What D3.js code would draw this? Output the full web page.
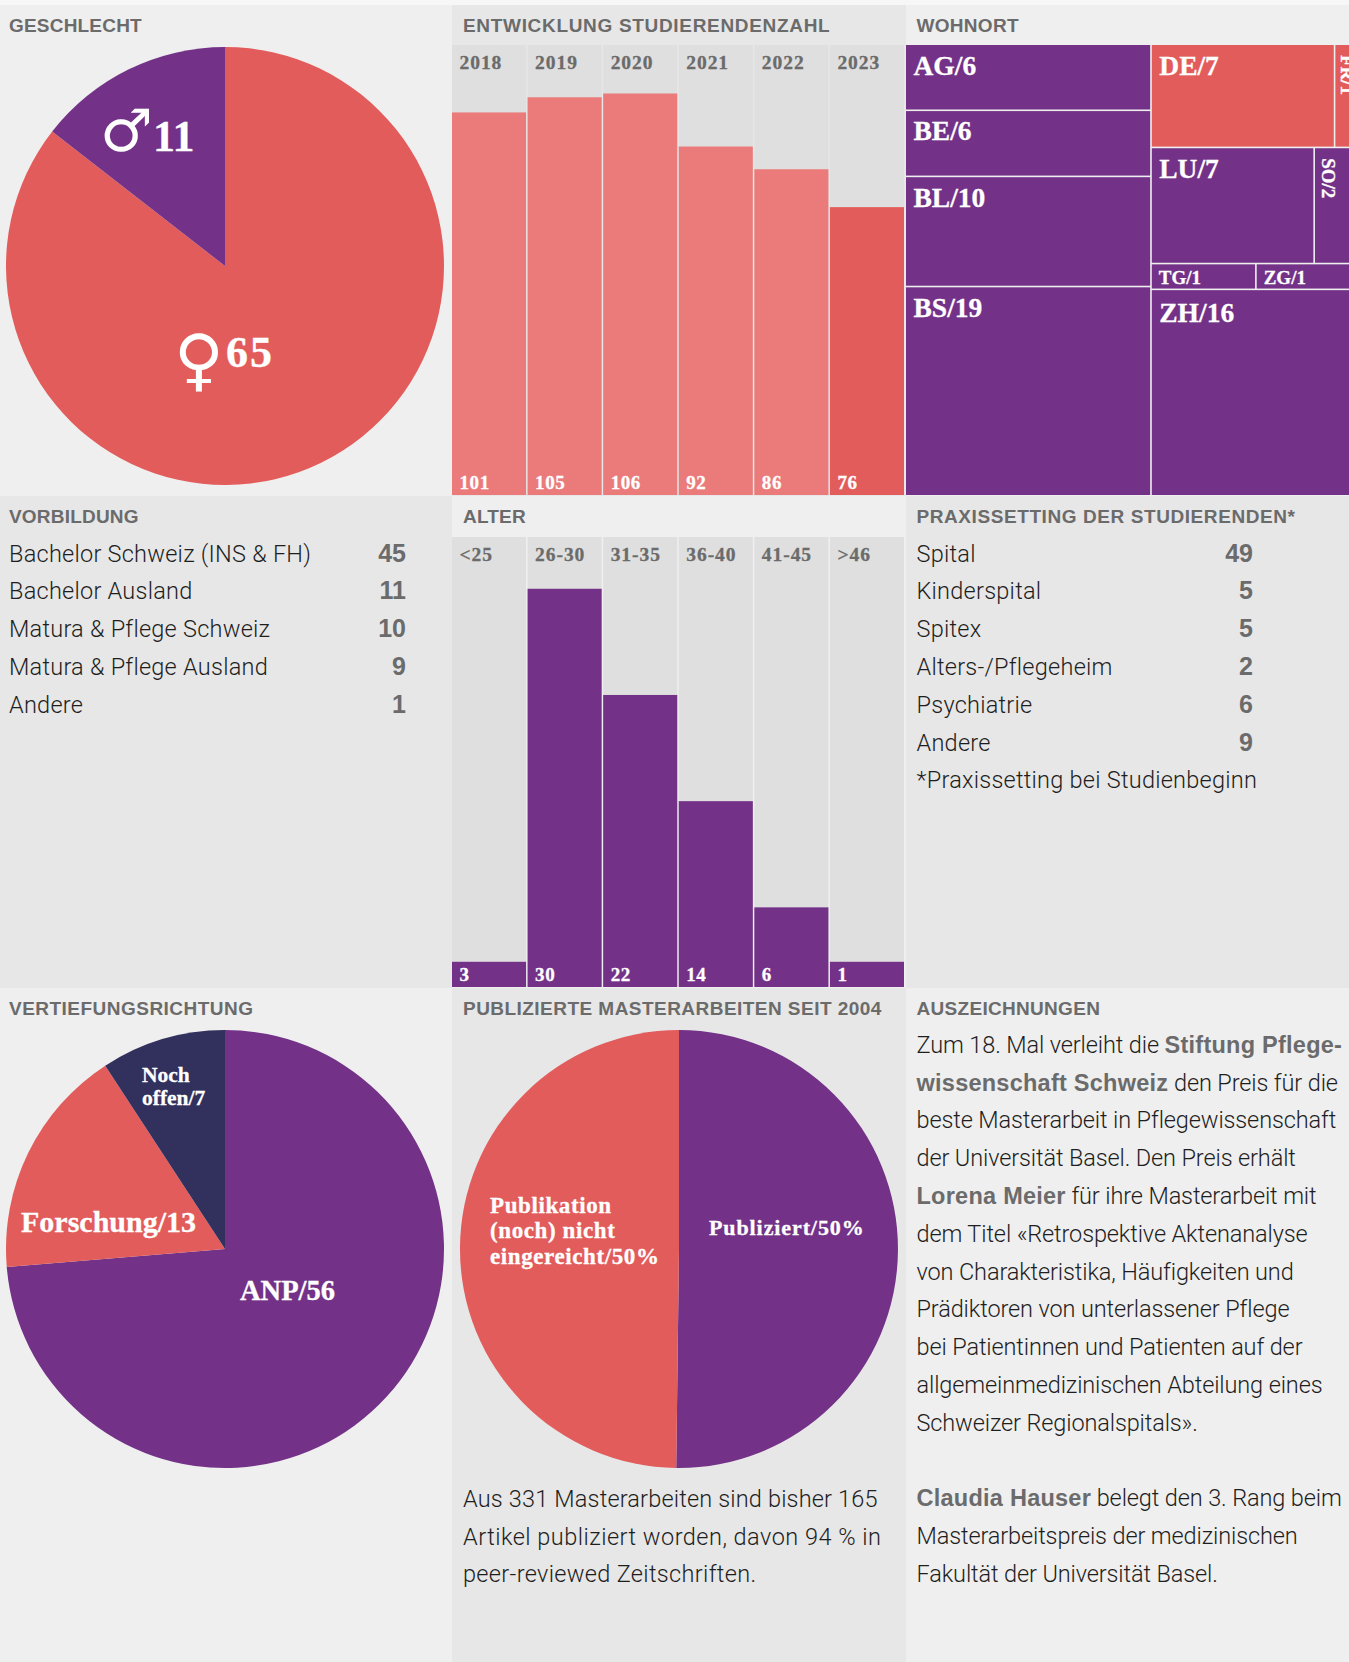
<!DOCTYPE html>
<html><head><meta charset="utf-8">
<script src="https://cdn.jsdelivr.net/npm/d3@7"></script>
<style>html,body{margin:0;padding:0;background:#f7f7f7}svg{display:block}</style></head>
<body><svg id="c" width="1349" height="1662"></svg>
<script>
// ---- data ----
const genderNames=["♀","♂"], genderValues=[65,11];
const years=["2018","2019","2020","2021","2022","2023"], yearValues=[101,105,106,92,86,76];
const ageGroups=["<25","26-30","31-35","36-40","41-45",">46"], ageValues=[3,30,22,14,6,1];
const ageBarValues=[1.9,30,22,14,6,1.9]; // the two small bars are drawn at the same height in the source
const cantonLeft=[["AG",6],["BE",6],["BL",10],["BS",19]];
const cantonRight=[[["DE",7],["FR",1]],[["LU",7],["SO",2]],[["TG",1],["ZG",1]],[["ZH",16]]];
const foreignCantons=["DE","FR"];
const eduNames=["Bachelor Schweiz (INS & FH)","Bachelor Ausland","Matura & Pflege Schweiz","Matura & Pflege Ausland","Andere"], eduValues=[45,11,10,9,1];
const praxisNames=["Spital","Kinderspital","Spitex","Alters-/Pflegeheim","Psychiatrie","Andere"], praxisValues=[49,5,5,2,6,9];
const praxisNote="*Praxissetting bei Studienbeginn";
const focusNames=["ANP","Forschung","Noch offen"], focusValues=[56,13,7];
const pubNames=["Publiziert","Publikation (noch) nicht eingereicht"], pubValues=[50.2,49.8];
const pubText=["Aus 331 Masterarbeiten sind bisher 165","Artikel publiziert worden, davon 94 % in","peer-reviewed Zeitschriften."];
const awardText=[
 [["Zum 18. Mal verleiht die ",0],["Stiftung Pflege-",1]],
 [["wissenschaft Schweiz",1],[" den Preis für die",0]],
 [["beste Masterarbeit in Pflegewissenschaft",0]],
 [["der Universität Basel. Den Preis erhält",0]],
 [["Lorena Meier",1],[" für ihre Masterarbeit mit",0]],
 [["dem Titel «Retrospektive Aktenanalyse",0]],
 [["von Charakteristika, Häufigkeiten und",0]],
 [["Prädiktoren von unterlassener Pflege",0]],
 [["bei Patientinnen und Patienten auf der",0]],
 [["allgemeinmedizinischen Abteilung eines",0]],
 [["Schweizer Regionalspitals».",0]],
 [],
 [["Claudia Hauser",1],[" belegt den 3. Rang beim",0]],
 [["Masterarbeitspreis der medizinischen",0]],
 [["Fakultät der Universität Basel.",0]]];

// ---- style ----
const PURPLE="#733288",RED="#e35c5c",PINK="#eb7b7b",NAVY="#32305c",LIGHT="#efefef",MID="#e7e7e7",BARBG="#dfdfdf",GREY="#6b6b6b",INK="#1e1e1e";
const SANS="'Liberation Sans',sans-serif",BODY="Roboto,sans-serif",SERIF="'Liberation Serif',serif";
const svg=d3.select("#c");
const colX=[0,452,906,1349], rowY=[5,496,988,1662];
const bgs=[[LIGHT,MID,LIGHT],[MID,LIGHT,MID],[LIGHT,MID,LIGHT]];
bgs.forEach((r,i)=>r.forEach((c,j)=>svg.append("rect").attr("x",colX[j]).attr("y",rowY[i]).attr("width",colX[j+1]-colX[j]).attr("height",rowY[i+1]-rowY[i]).attr("fill",c)));

function txt(x,y,s,o={}){
  const t=svg.append("text").attr("x",x).attr("y",y).text(s)
   .attr("font-family",o.f||SERIF).attr("font-size",o.s||20).attr("font-weight",o.w||700)
   .attr("fill",o.c||"#fff").attr("text-anchor",o.a||"start").attr("letter-spacing",o.ls||0);
  if(!o.f){t.attr("stroke",o.c||"#fff").attr("stroke-width",0.3);}
  if(o.r) t.attr("transform",`rotate(${o.r} ${x} ${y})`);
  return t;
}
const header=(x,y,s,ls)=>txt(x,y,s,{f:SANS,s:19,c:GREY,ls});
const BT={f:BODY,s:23.5,w:300,c:INK,ls:0.25};
[[9,32,"GESCHLECHT",0.2],[463,32,"ENTWICKLUNG STUDIERENDENZAHL",0.68],[916.5,32,"WOHNORT",0.3],
 [9,523,"VORBILDUNG",0.2],[463,523,"ALTER",0.2],[916.5,523,"PRAXISSETTING DER STUDIERENDEN*",0.58],
 [9,1015,"VERTIEFUNGSRICHTUNG",0.48],[463,1015,"PUBLIZIERTE MASTERARBEITEN SEIT 2004",0.46],[916.5,1015,"AUSZEICHNUNGEN",0.3]].forEach(h=>header(...h));

// ---- pies ----
function pie(cx,cy,values,colors){
  const arcs=d3.pie().sort(null)(values), arc=d3.arc().innerRadius(0).outerRadius(219);
  svg.append("g").attr("transform",`translate(${cx},${cy})`).selectAll("path").data(arcs).join("path")
    .attr("d",arc).attr("fill",(d,i)=>colors[i]);
}
pie(225,266,genderValues,[RED,PURPLE]);
pie(225,1249,focusValues,[PURPLE,RED,NAVY]);
pie(679,1249,pubValues,[PURPLE,RED]);

txt(100,151,genderNames[1],{f:"'DejaVu Sans'",s:59,w:400});
txt(153,151,genderValues[1],{s:44});
txt(174,383,genderNames[0],{f:"'DejaVu Sans'",s:68,w:400});
txt(226,367,genderValues[0],{s:44,ls:2});

txt(142,1082,"Noch",{s:21.5});
txt(142,1105,`offen/${focusValues[2]}`,{s:21.5});
txt(21,1232,`${focusNames[1]}/${focusValues[1]}`,{s:30});
txt(240,1300,`${focusNames[0]}/${focusValues[0]}`,{s:28.5});
txt(709,1235,`${pubNames[0]}/50%`,{s:22,ls:0.9});
["Publikation","(noch) nicht","eingereicht/50%"].forEach((s,i)=>txt(490,1213+i*25.4,s,{s:23,ls:0.6}));
const pubSpacing=[0.17,0.48,0.33];
pubText.forEach((s,i)=>txt(463,1506.7+i*37.8,s,{...BT,ls:pubSpacing[i]}));

// ---- bars ----
function bars(cats,values,labels,maxV,top,bottom,color){
  const x=d3.scaleBand().domain(cats).range([452,904]).paddingInner(0.02);
  const y=d3.scaleLinear().domain([0,maxV]).range([bottom,top]);
  const g=svg.append("g");
  g.selectAll(".bg").data(cats).join("rect").attr("x",d=>x(d)).attr("width",x.bandwidth()).attr("y",top).attr("height",bottom-top).attr("fill",BARBG);
  g.selectAll(".v").data(values).join("rect").attr("x",(d,i)=>x(cats[i])).attr("width",x.bandwidth()).attr("y",d=>y(d)).attr("height",d=>bottom-y(d)).attr("fill",(d,i)=>color(i));
  cats.forEach((c,i)=>{
    txt(x(c)+7.5,top+24,c,{s:19.5,c:GREY,ls:0.95});
    txt(x(c)+7.5,bottom-6.5,labels[i],{s:19,ls:0.6});
  });
}
bars(years,yearValues,yearValues,118.8,45,495,i=>i===5?RED:PINK);
bars(ageGroups,ageBarValues,ageValues,33.9,537,987,()=>PURPLE);

// ---- treemap ----
const tree={children:[
  {children:cantonLeft.map(([n,v])=>({n,value:v}))},
  {children:cantonRight.map(r=>({children:r.map(([n,v])=>({n,value:v}))}))}]};
const root=d3.hierarchy(tree).sum(d=>d.value||0);
d3.treemap().size([454,450]).round(false).paddingInner(1.6).tile((node,x0,y0,x1,y1)=>{
  (node.depth===1?d3.treemapSlice:d3.treemapDice)(node,x0,y0,x1,y1);
})(root);
const tg=svg.append("g").attr("transform","translate(906,45)");
tg.selectAll("rect").data(root.leaves()).join("rect")
  .attr("x",d=>d.x0).attr("y",d=>d.y0).attr("width",d=>d.x1-d.x0).attr("height",d=>d.y1-d.y0)
  .attr("fill",d=>foreignCantons.includes(d.data.n)?RED:PURPLE);
root.leaves().forEach(d=>{
  const n=d.data.n, s=`${n}/${d.value}`, X=906+d.x0, Y=45+d.y0;
  if(n==="FR"||n==="SO") txt(X+(n==="FR"?6:7),Y+10,s,{s:19,r:90});
  else if(n==="TG"||n==="ZG") txt(X+7,Y+19.5,s,{s:19});
  else txt(X+7.5,Y+(n==="ZH"?32:n==="BE"?29:30),s,{s:27.5});
});

// ---- lists ----
function list(x,xv,names,values){
  names.forEach((n,i)=>{
    txt(x,561.5+i*37.8,n,BT);
    txt(xv,561.5+i*37.8,values[i],{f:SANS,s:25,c:GREY,a:"end"});
  });
}
list(9,406,eduNames,eduValues);
list(916.5,1253,praxisNames,praxisValues);
txt(916.5,561.5+6*37.8,praxisNote,BT);

// ---- award text ----
awardText.forEach((line,i)=>{
  if(!line.length) return;
  const t=svg.append("text").attr("x",916.5).attr("y",1052.7+i*37.8).attr("font-size",23.5).style("white-space","pre");
  line.forEach(([s,b])=>t.append("tspan").text(s).attr("font-family",b?SANS:BODY).attr("font-weight",b?700:300).attr("fill",b?GREY:INK).attr("letter-spacing",b?0.25:-0.12));
});
svg.append("rect").attr("x",0).attr("y",0).attr("width",1349).attr("height",5).attr("fill","#f7f7f7");
</script></body></html>
